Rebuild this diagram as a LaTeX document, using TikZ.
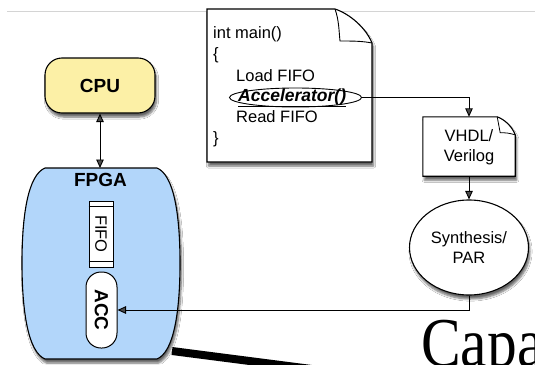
\documentclass[tikz,border=0pt]{standalone}
\usepackage{fontspec}
\setmainfont{Liberation Sans}
\newfontfamily\capafont{Liberation Serif}
\usetikzlibrary{arrows.meta,shapes.geometric,shadows.blur,calc}

\definecolor{cpuyellow}{RGB}{252,240,166}
\definecolor{fpgablue}{RGB}{178,214,250}
\definecolor{rulegray}{RGB}{212,212,212}

\tikzset{
  shd/.style={blur shadow={shadow xshift=1.5pt, shadow yshift=-4pt, shadow blur steps=6, shadow opacity=60}},
  conn/.style={line width=0.9pt, -{Triangle[length=8.5pt,width=7.5pt]}},
  bord/.style={draw=black, line width=1.1pt},
  txt/.style={font=\fontsize{16.5}{20}\selectfont, inner sep=0pt},
  btxt/.style={font=\fontsize{19}{22}\selectfont\bfseries, inner sep=0pt},
}

\begin{document}
\begin{tikzpicture}[x=1pt,y=-1pt]
\useasboundingbox (0,0) rectangle (535,364);
\clip (0,0) rectangle (535,364);
\fill[white] (0,0) rectangle (535,364);

% top rule
\draw[rulegray, line width=1pt] (7,11.5) -- (535,11.5);

% CPU
\node[bord, fill=cpuyellow, rounded corners=17pt, minimum width=110pt,
      minimum height=55pt, shd, btxt] (cpu) at (100,85.5) {CPU};

% FPGA
\path[bord, fill=fpgablue, shd] (45,168) -- (157,168)
  .. controls (174,175) and (180,215) .. (180,263)
  .. controls (180,311) and (174,352) .. (157,359) -- (45,359)
  .. controls (28,352) and (22,311) .. (22,263)
  .. controls (22,215) and (28,175) .. (45,168) -- cycle;
\coordinate (fpgatop) at (100,168);
\node[btxt, anchor=base] (fpgalabel) at (100.5,186) {FPGA};

\draw[line width=0.9pt, {Triangle[length=8.5pt,width=7.5pt]}-{Triangle[length=8.5pt,width=7.5pt]}]
  (cpu.south) -- (fpgatop);

% FIFO
\node[draw, line width=0.9pt, fill=white, minimum width=24pt, minimum height=66pt,
      inner sep=0pt] (fifo) at (101,234)
      {\rotatebox{-90}{\fontsize{16.5}{20}\selectfont FIFO}};
\draw[line width=0.7pt] ($(fifo.north west)+(0,6)$) -- ($(fifo.north east)+(0,6)$);
\draw[line width=0.7pt] ($(fifo.south west)+(0,-6)$) -- ($(fifo.south east)+(0,-6)$);

% ACC
\node[draw, line width=1pt, fill=white, rounded corners=15pt, minimum width=31pt,
      minimum height=76pt, inner sep=0pt] (acc) at (101.5,310)
      {\rotatebox{-90}{\fontsize{19}{22}\selectfont\bfseries ACC}};

% program document
\path[bord, fill=white, shd] (207,9) -- (335,9)
  .. controls (350,14) and (366,28) .. (372,43) -- (372,162) -- (207,162) -- cycle;
\draw[line width=0.9pt] (335,9) .. controls (339,20) and (339,32) .. (340,41)
  .. controls (352,41) and (362,41) .. (372,43);
\node[txt, anchor=base west] (l1) at (213,38) {int main()};
\node[txt, anchor=base west] (l2) at (213,59) {\{};
\node[txt, anchor=base west] (l3) at (236,81) {Load FIFO};
\node[draw, ellipse, line width=0.9pt, minimum width=132pt, minimum height=19pt,
      inner sep=0pt] (accring) at (295.5,97.5) {};
\node[anchor=base west, inner sep=0pt, font=\fontsize{17.5}{20}\selectfont\bfseries\itshape]
      (accel) at (238,101) {\underline{Accelerator()}};
\node[txt, anchor=base west] (l5) at (236,122) {Read FIFO};
\node[txt, anchor=base west] (l6) at (213,143) {\}};

% VHDL document
\node[minimum width=92pt, minimum height=59pt, inner sep=0pt] (vhdl) at (469,146.5) {};
\path[bord, fill=white, shd] (vhdl.north west) -- ([xshift=-18pt]vhdl.north east)
  .. controls ([xshift=-10pt,yshift=-3pt]vhdl.north east) and ([xshift=-3pt,yshift=-10pt]vhdl.north east)
  .. ([yshift=-18pt]vhdl.north east) -- (vhdl.south east) -- (vhdl.south west) -- cycle;
\draw[line width=0.8pt] ([xshift=-18pt]vhdl.north east)
  .. controls ([xshift=-16pt,yshift=-8pt]vhdl.north east) .. ([xshift=-15pt,yshift=-16pt]vhdl.north east)
  .. controls ([xshift=-8pt,yshift=-16pt]vhdl.north east) .. ([yshift=-18pt]vhdl.north east);
\node[txt, align=center] (vhdltext) at (469,147.5) {VHDL/\\Verilog};

% Synthesis
\node[draw, line width=1.1pt, ellipse, fill=white, shd, minimum width=119pt,
      minimum height=95pt, inner sep=0pt, txt, align=center] (synth) at (469,247.5)
      {Synthesis/\\PAR};

% connectors
\draw[conn] (accring.east) -| (vhdl.north);
\draw[conn] (vhdl.south) -- (synth.north);
\draw[conn] (synth.south) |- (acc.east);

% background slide remnants
\draw[line width=8pt] (172,351) -- (420,383);
\node[anchor=base west, inner sep=0pt] (capa) at (421,366)
  {\capafont\fontsize{70}{70}\selectfont\scalebox{0.85}[1]{Capa}};
\end{tikzpicture}
\end{document}
